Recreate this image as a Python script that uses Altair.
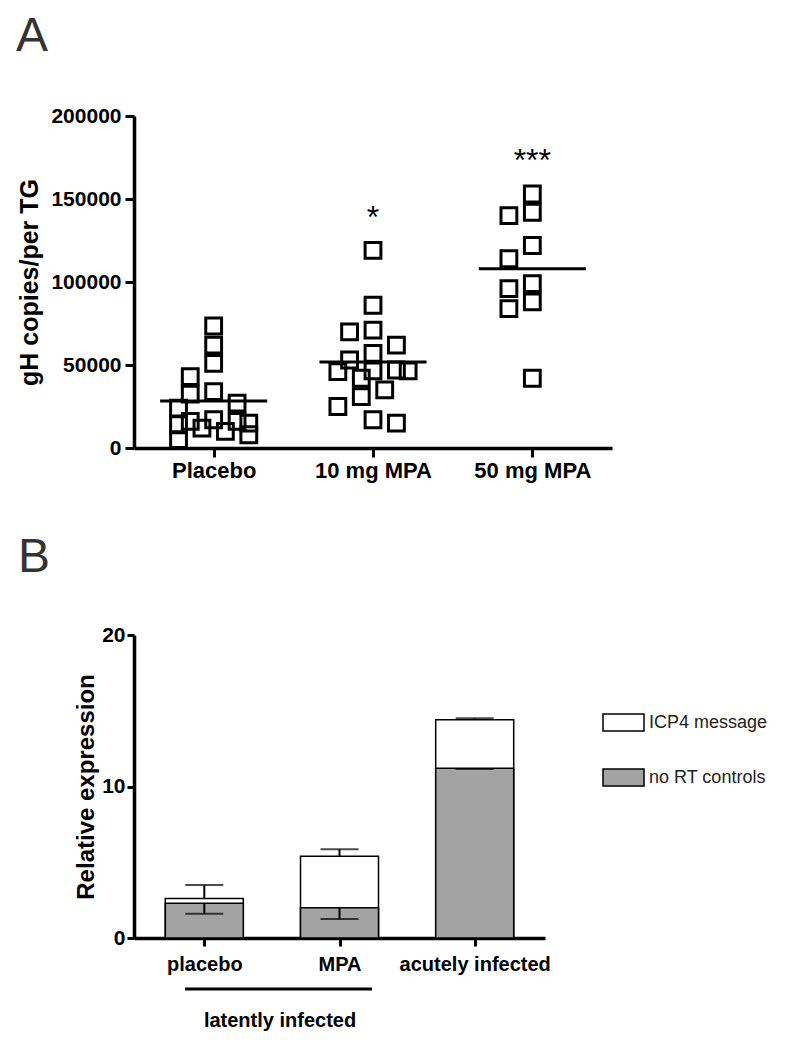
import altair as alt
import pandas as pd

# ---------------- Panel A data ----------------
groups_a = ["Placebo", "10 mg MPA", "50 mg MPA"]
placebo = [73500, 62000, 51000, 43000, 34000, 32500, 27000, 24000, 17000,
           16000, 16000, 15000, 14000, 12000, 10000, 8000, 5000]
mpa10 = [119000, 86000, 71000, 70000, 62000, 57000, 53000, 47000, 46500,
         46000, 46500, 42000, 35000, 31000, 25000, 17000, 15000]
mpa50 = [153000, 142000, 140000, 122000, 114000, 99000, 96000, 88000, 84000, 42000]
means_a = [28300, 51800, 108000]
sig_groups = ["10 mg MPA", "50 mg MPA"]
sig_text = ["*", "***"]
sig_level = [132500, 167000]

# ---------------- Panel B data ----------------
groups_b = ["placebo", "MPA", "acutely infected"]
series = ["ICP4 message", "no RT controls"]
icp4_mean = [2.6, 5.4, 14.4]
icp4_upper = [3.5, 5.85, 14.5]
nort_mean = [2.3, 2.0, 11.2]
nort_lower = [1.6, 1.25, 11.15]

FONT = "Liberation Sans"
SLOT = 0.0735      # horizontal spacing of scatter columns (in group units)
HALF_MEAN = 0.336  # half width of mean line (in group units)
SLOT_PX = 11.7
BOX_PX = 18.0
PX_PER_VALUE = 332 / 200000


def swarm_slots(vals, gap_px=BOX_PX, max_slot=3):
    placed, out = [], []
    order = [0]
    for k in range(1, max_slot + 1):
        order += [-k, k]
    for v in vals:
        best, best_conf = 0, None
        for s in order:
            conf = 0.0
            for pv, ps in placed:
                dx = abs(ps - s) * SLOT_PX
                dy = abs(pv - v) * PX_PER_VALUE
                if dx < gap_px and dy < gap_px - 1:
                    conf += (gap_px - dx) * (gap_px - dy)
            if conf == 0:
                best, best_conf = s, 0
                break
            if best_conf is None or conf < best_conf:
                best, best_conf = s, conf
        placed.append((v, best))
        out.append(best)
    return out


rows = []
for i, (g, vals) in enumerate(zip(groups_a, [placebo, mpa10, mpa50])):
    for v, s in zip(vals, swarm_slots(vals)):
        rows.append({"group": g, "value": v, "xpos": i + s * SLOT})
pts = pd.DataFrame(rows)

mean_df = pd.DataFrame({
    "group": groups_a,
    "lo": [i - HALF_MEAN for i in range(len(groups_a))],
    "hi": [i + HALF_MEAN for i in range(len(groups_a))],
    "mean": means_a,
})
sig_df = pd.DataFrame({
    "x": [groups_a.index(g) for g in sig_groups],
    "level": sig_level,
    "text": sig_text,
})

label_expr = "[" + ",".join("'%s'" % g for g in groups_a) + "][datum.value]"

xA = alt.X("xpos:Q", scale=alt.Scale(domain=[-0.5, len(groups_a) - 0.5], nice=False, zero=False),
           axis=alt.Axis(values=list(range(len(groups_a))), labelExpr=label_expr, title=None,
                         grid=False, domainColor="black", domainWidth=3.5, tickColor="black",
                         tickWidth=3, tickSize=9, labelFont=FONT, labelFontSize=22,
                         labelFontWeight="bold", labelColor="black", labelPadding=3))
yA = alt.Y("value:Q", scale=alt.Scale(domain=[0, 200000], nice=False),
           axis=alt.Axis(values=[0, 50000, 100000, 150000, 200000], format="d",
                         title="gH copies/per TG", grid=False, domainColor="black",
                         domainWidth=3.5, tickColor="black", tickWidth=3, tickSize=9,
                         labelFont=FONT, labelFontSize=21, labelFontWeight="bold",
                         labelColor="black", labelPadding=4, titleFont=FONT,
                         titleFontSize=25, titleFontWeight="bold", titleColor="black",
                         titlePadding=8))

points = alt.Chart(pts).mark_point(shape="square", filled=False, size=250,
                                   strokeWidth=3, color="black", opacity=1).encode(x=xA, y=yA)
mean_lines = alt.Chart(mean_df).mark_rule(strokeWidth=3, color="black").encode(
    x=alt.X("lo:Q"), x2="hi:Q", y=alt.Y("mean:Q"))
stars = alt.Chart(sig_df).mark_text(font=FONT, fontSize=32, baseline="alphabetic",
                                    color="black").encode(
    x=alt.X("x:Q"), y=alt.Y("level:Q"), text="text:N")

panelA = alt.layer(points, mean_lines, stars).properties(
    width=478, height=332,
    title=alt.TitleParams("A", anchor="start", frame="group", fontSize=48,
                          fontWeight="normal", font=FONT, color="#333333",
                          dx=-118, offset=-4, baseline="bottom"))

# ---------------- Panel B ----------------
bar_rows = []
for g, v in zip(groups_b, icp4_mean):
    bar_rows.append({"group": g, "series": series[0], "value": v})
for g, v in zip(groups_b, nort_mean):
    bar_rows.append({"group": g, "series": series[1], "value": v})
bars_df = pd.DataFrame(bar_rows)
bars_df["order"] = range(len(bars_df))

err_df = pd.DataFrame({
    "group": groups_b,
    "icp4": icp4_mean, "icp4_up": icp4_upper,
    "nort": nort_mean, "nort_lo": nort_lower,
})

xB = alt.X("group:N", sort=groups_b, scale=alt.Scale(type="point", padding=0.52),
           axis=alt.Axis(title=None, labelAngle=0, domainColor="black", domainWidth=3.5,
                         tickColor="black", tickWidth=3, tickSize=8, labelFont=FONT,
                         labelFontSize=20, labelFontWeight="bold", labelColor="black",
                         labelPadding=8))
yB_axis = alt.Axis(values=[0, 10, 20], title="Relative expression", grid=False,
                   domainColor="black", domainWidth=3.5, tickColor="black",
                   tickWidth=3, tickSize=7, labelFont=FONT, labelFontSize=21,
                   labelFontWeight="bold", labelColor="black", labelPadding=2,
                   titleFont=FONT, titleFontSize=24, titleFontWeight="bold",
                   titleColor="black", titlePadding=3)

bars = alt.Chart(bars_df).mark_bar(size=78, stroke="black", strokeWidth=1.5).encode(
    x=xB, y=alt.Y("value:Q", scale=alt.Scale(domain=[0, 20], nice=False), stack=None,
                  axis=yB_axis),
    fill=alt.Fill("series:N", scale=alt.Scale(domain=series, range=["white", "#a3a3a3"]),
                  legend=alt.Legend(orient="none", legendX=468, legendY=66, title=None,
                                    symbolType="M-1,-0.415H1V0.415H-1Z", symbolSize=1681,
                                    symbolStrokeColor="black", symbolStrokeWidth=1.5,
                                    labelFont=FONT, labelFontSize=18, labelColor="#222222",
                                    labelOffset=4, rowPadding=21)),
    order=alt.Order("order:Q"))

rule_up = alt.Chart(err_df).mark_rule(strokeWidth=2, color="black").encode(
    x=alt.X("group:N", sort=groups_b), y="icp4:Q", y2="icp4_up:Q")
cap_up = alt.Chart(err_df).mark_tick(size=38, thickness=2, color="black").encode(
    x=alt.X("group:N", sort=groups_b), y="icp4_up:Q")
rule_lo = alt.Chart(err_df).mark_rule(strokeWidth=2, color="black").encode(
    x=alt.X("group:N", sort=groups_b), y="nort_lo:Q", y2="nort:Q")
cap_lo = alt.Chart(err_df).mark_tick(size=38, thickness=2, color="black").encode(
    x=alt.X("group:N", sort=groups_b), y="nort_lo:Q")

bracket = alt.Chart(alt.Data(values=[{}])).mark_rule(strokeWidth=3, color="black").encode(
    x=alt.value(51), x2=alt.value(238), y=alt.value(354))
bracket_text = alt.Chart(alt.Data(values=[{}])).mark_text(
    font=FONT, fontSize=20, fontWeight="bold", color="black", baseline="alphabetic").encode(
    x=alt.value(146), y=alt.value(392), text=alt.value("latently infected"))

panelB = alt.layer(bars, rule_up, cap_up, rule_lo, cap_lo, bracket, bracket_text).properties(
    width=411, height=303,
    title=alt.TitleParams("B", anchor="start", frame="group", fontSize=48,
                          fontWeight="normal", font=FONT, color="#333333",
                          dx=-116, offset=-6, baseline="bottom"))

chart = alt.vconcat(panelA, panelB, spacing=53).resolve_legend(
    fill="independent").configure_view(stroke=None).properties(
    padding={"left": 8, "top": 5, "right": 5, "bottom": 5}, background="white")

chart.save("out.html", embed_options={"renderer": "svg", "actions": False})
